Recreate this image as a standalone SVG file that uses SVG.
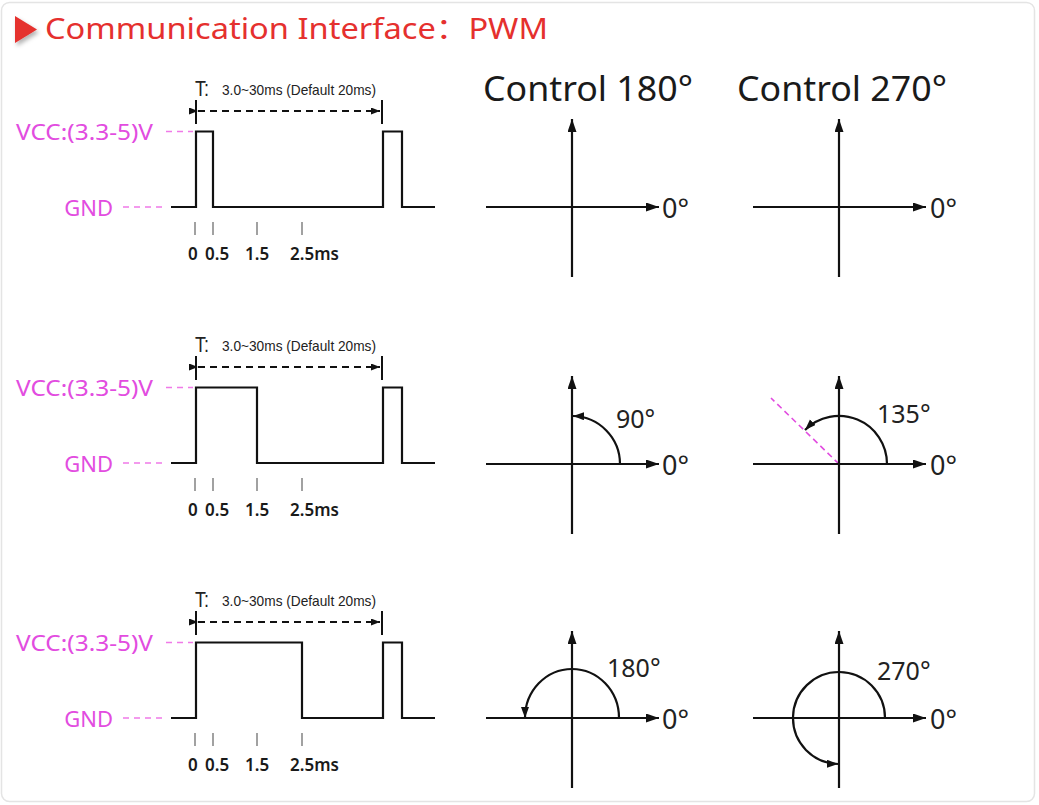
<svg xmlns="http://www.w3.org/2000/svg" width="1039" height="805" viewBox="0 0 1039 805">
  <style>
    .title { font-family: "Noto Sans", "Noto Sans CJK SC", sans-serif; font-size: 29px; fill: #e5302e; }
    .lvl { font-family: "Noto Sans", "Open Sans", sans-serif; font-size: 22px; fill: #e24ce0; }
    .pdash { stroke: #f07ae8; stroke-width: 1.5; stroke-dasharray: 6 5; fill: none; }
    .wave { stroke: #111; stroke-width: 2.2; fill: none; stroke-linejoin: miter; }
    .bar { stroke: #111; stroke-width: 2; }
    .tdash { stroke: #111; stroke-width: 2; stroke-dasharray: 7 5; fill: none; }
    .tick { stroke: #8a8a8a; stroke-width: 1.6; }
    .tl { font-family: "Liberation Sans", Arial, sans-serif; fill: #222; }
    .ms { font-family: "Noto Sans", "Open Sans", sans-serif; font-size: 17px; font-weight: 600; fill: #1a1a1a; }
    .hd { font-family: "Noto Sans", "Open Sans", sans-serif; font-size: 35px; fill: #1a1a1a; }
    .axis { stroke: #111; stroke-width: 2.2; fill: none; }
    .arc { stroke: #111; stroke-width: 2.2; fill: none; }
    .deg { font-family: "Noto Sans", "Open Sans", sans-serif; font-size: 27px; fill: #222; }
    .adeg { font-family: "Noto Sans", "Open Sans", sans-serif; font-size: 25px; fill: #222; }
  </style>
  <defs>
    <marker id="ax" markerUnits="userSpaceOnUse" markerWidth="14" markerHeight="10" refX="13" refY="4.5" orient="auto">
      <path d="M0,0 L13,4.5 L0,9 Z" fill="#111"/>
    </marker>
    <marker id="ah" markerUnits="userSpaceOnUse" markerWidth="12" markerHeight="9" refX="11" refY="4" orient="auto">
      <path d="M0,0 L11,4 L0,8 Z" fill="#111"/>
    </marker>
    <marker id="tArr" markerUnits="userSpaceOnUse" markerWidth="10" markerHeight="8" refX="9" refY="3.5" orient="auto">
      <path d="M0,0 L9,3.5 L0,7 Z" fill="#111"/>
    </marker>
    <filter id="sh" x="-30%" y="-30%" width="180%" height="180%">
      <feDropShadow dx="2" dy="3" stdDeviation="2" flood-color="#000" flood-opacity="0.3"/>
    </filter>
  </defs>

  <rect x="1.5" y="2.5" width="1033" height="799" rx="8" fill="#ffffff" stroke="#e4e4e4" stroke-width="1.5"/>

  <g id="title">
    <path d="M15,16 L37,29.5 L15,43 Z" fill="#e5302e" filter="url(#sh)"/>
    <text class="title" x="45" y="39" textLength="503" lengthAdjust="spacingAndGlyphs">Communication Interface：PWM</text>
  </g>

  <g id="headings">
    <text class="hd" x="483" y="101" textLength="210" lengthAdjust="spacingAndGlyphs">Control 180°</text>
    <text class="hd" x="737" y="101" textLength="210" lengthAdjust="spacingAndGlyphs">Control 270°</text>
  </g>

  <!-- Row 1: 0.5 ms -->
  <g id="wave-row1">
    <text class="tl" x="195" y="96" font-size="22" textLength="14" lengthAdjust="spacingAndGlyphs">T:</text>
    <text class="tl" x="222" y="95" font-size="15" textLength="154" lengthAdjust="spacingAndGlyphs">3.0~30ms (Default 20ms)</text>
    <line class="bar" x1="196" y1="100" x2="196" y2="124"/>
    <line class="bar" x1="382" y1="100" x2="382" y2="124"/>
    <text class="lvl" x="153" y="140" text-anchor="end" textLength="137" lengthAdjust="spacingAndGlyphs">VCC:(3.3-5)V</text>
    <text class="lvl" x="113" y="216" text-anchor="end">GND</text>
    <line class="pdash" x1="166" y1="131.5" x2="193" y2="131.5"/>
    <line class="pdash" x1="123" y1="207" x2="165" y2="207"/>
    <polyline class="wave" points="171,207 196,207 196,131.5 213,131.5 213,207 383,207 383,131.5 402,131.5 402,207 435,207"/>
    <line class="tick" x1="195" y1="222" x2="195" y2="235"/>
    <line class="tick" x1="213" y1="222" x2="213" y2="235"/>
    <line class="tick" x1="257" y1="222" x2="257" y2="235"/>
    <line class="tick" x1="302" y1="222" x2="302" y2="235"/>
    <text class="ms" x="188" y="260">0</text>
    <text class="ms" x="205" y="260">0.5</text>
    <text class="ms" x="245" y="260">1.5</text>
    <text class="ms" x="290" y="260">2.5ms</text>
  </g>

  <!-- Row 2: 1.5 ms -->
  <g id="wave-row2" transform="translate(0,256)">
    <text class="tl" x="195" y="96" font-size="22" textLength="14" lengthAdjust="spacingAndGlyphs">T:</text>
    <text class="tl" x="222" y="95" font-size="15" textLength="154" lengthAdjust="spacingAndGlyphs">3.0~30ms (Default 20ms)</text>
    <line class="bar" x1="196" y1="100" x2="196" y2="124"/>
    <line class="bar" x1="382" y1="100" x2="382" y2="124"/>
    <text class="lvl" x="153" y="140" text-anchor="end" textLength="137" lengthAdjust="spacingAndGlyphs">VCC:(3.3-5)V</text>
    <text class="lvl" x="113" y="216" text-anchor="end">GND</text>
    <line class="pdash" x1="166" y1="131.5" x2="193" y2="131.5"/>
    <line class="pdash" x1="123" y1="207" x2="165" y2="207"/>
    <polyline class="wave" points="171,207 196,207 196,131.5 257,131.5 257,207 383,207 383,131.5 402,131.5 402,207 435,207"/>
    <line class="tick" x1="195" y1="222" x2="195" y2="235"/>
    <line class="tick" x1="213" y1="222" x2="213" y2="235"/>
    <line class="tick" x1="257" y1="222" x2="257" y2="235"/>
    <line class="tick" x1="302" y1="222" x2="302" y2="235"/>
    <text class="ms" x="188" y="260">0</text>
    <text class="ms" x="205" y="260">0.5</text>
    <text class="ms" x="245" y="260">1.5</text>
    <text class="ms" x="290" y="260">2.5ms</text>
  </g>

  <!-- Row 3: 2.5 ms -->
  <g id="wave-row3" transform="translate(0,511)">
    <text class="tl" x="195" y="96" font-size="22" textLength="14" lengthAdjust="spacingAndGlyphs">T:</text>
    <text class="tl" x="222" y="95" font-size="15" textLength="154" lengthAdjust="spacingAndGlyphs">3.0~30ms (Default 20ms)</text>
    <line class="bar" x1="196" y1="100" x2="196" y2="124"/>
    <line class="bar" x1="382" y1="100" x2="382" y2="124"/>
    <text class="lvl" x="153" y="140" text-anchor="end" textLength="137" lengthAdjust="spacingAndGlyphs">VCC:(3.3-5)V</text>
    <text class="lvl" x="113" y="216" text-anchor="end">GND</text>
    <line class="pdash" x1="166" y1="131.5" x2="193" y2="131.5"/>
    <line class="pdash" x1="123" y1="207" x2="165" y2="207"/>
    <polyline class="wave" points="171,207 196,207 196,131.5 302,131.5 302,207 383,207 383,131.5 402,131.5 402,207 435,207"/>
    <line class="tick" x1="195" y1="222" x2="195" y2="235"/>
    <line class="tick" x1="213" y1="222" x2="213" y2="235"/>
    <line class="tick" x1="257" y1="222" x2="257" y2="235"/>
    <line class="tick" x1="302" y1="222" x2="302" y2="235"/>
    <text class="ms" x="188" y="260">0</text>
    <text class="ms" x="205" y="260">0.5</text>
    <text class="ms" x="245" y="260">1.5</text>
    <text class="ms" x="290" y="260">2.5ms</text>
  </g>

  <!-- Angle diagrams -->
  <g id="dial-180-row1">
    <text class="deg" x="662" y="218">0°</text>
  </g>
  <g id="dial-270-row1">
    <text class="deg" x="930" y="218">0°</text>
  </g>
  <g id="dial-180-row2">
    <text class="deg" x="662" y="475">0°</text>
    <text class="adeg" x="616" y="428">90°</text>
  </g>
  <g id="dial-270-row2">
    <text class="deg" x="930" y="475">0°</text>
    <text class="adeg" x="877" y="423">135°</text>
    <line x1="839" y1="464" x2="771" y2="398" stroke="#e24ce0" stroke-width="1.6" stroke-dasharray="6 4"/>
  </g>
  <g id="dial-180-row3">
    <text class="deg" x="662" y="729">0°</text>
    <text class="adeg" x="607" y="677">180°</text>
  </g>
  <g id="dial-270-row3">
    <text class="deg" x="930" y="729">0°</text>
    <text class="adeg" x="877" y="680">270°</text>
  </g>

  <g id="connectors">
    <!-- period arrows -->
    <line class="tdash" x1="198" y1="111" x2="380" y2="111" marker-start="url(#tArr)" marker-end="url(#tArr)"/>
    <line class="tdash" x1="198" y1="367" x2="380" y2="367" marker-start="url(#tArr)" marker-end="url(#tArr)"/>
    <line class="tdash" x1="198" y1="622" x2="380" y2="622" marker-start="url(#tArr)" marker-end="url(#tArr)"/>
    <!-- axes row 1 -->
    <line class="axis" x1="486" y1="207" x2="659" y2="207" marker-end="url(#ax)"/>
    <line class="axis" x1="572" y1="277" x2="572" y2="119" marker-end="url(#ax)"/>
    <line class="axis" x1="753" y1="207" x2="926" y2="207" marker-end="url(#ax)"/>
    <line class="axis" x1="839" y1="277" x2="839" y2="119" marker-end="url(#ax)"/>
    <!-- axes row 2 -->
    <line class="axis" x1="486" y1="464" x2="659" y2="464" marker-end="url(#ax)"/>
    <line class="axis" x1="572" y1="534" x2="572" y2="376" marker-end="url(#ax)"/>
    <line class="axis" x1="753" y1="464" x2="926" y2="464" marker-end="url(#ax)"/>
    <line class="axis" x1="839" y1="534" x2="839" y2="376" marker-end="url(#ax)"/>
    <!-- axes row 3 -->
    <line class="axis" x1="486" y1="718" x2="659" y2="718" marker-end="url(#ax)"/>
    <line class="axis" x1="572" y1="788" x2="572" y2="631" marker-end="url(#ax)"/>
    <line class="axis" x1="753" y1="718" x2="926" y2="718" marker-end="url(#ax)"/>
    <line class="axis" x1="839" y1="788" x2="839" y2="631" marker-end="url(#ax)"/>
    <!-- rotation arcs -->
    <path class="arc" d="M620,464 A48,48 0 0 0 573,416" marker-end="url(#ah)"/>
    <path class="arc" d="M887,464 A48,48 0 0 0 805,430" marker-end="url(#ah)"/>
    <path class="arc" d="M619,718 A47,49 0 0 0 525,718" marker-end="url(#ah)"/>
    <path class="arc" d="M885,718 A46,46 0 1 0 838,764" marker-end="url(#ah)"/>
  </g>
</svg>
